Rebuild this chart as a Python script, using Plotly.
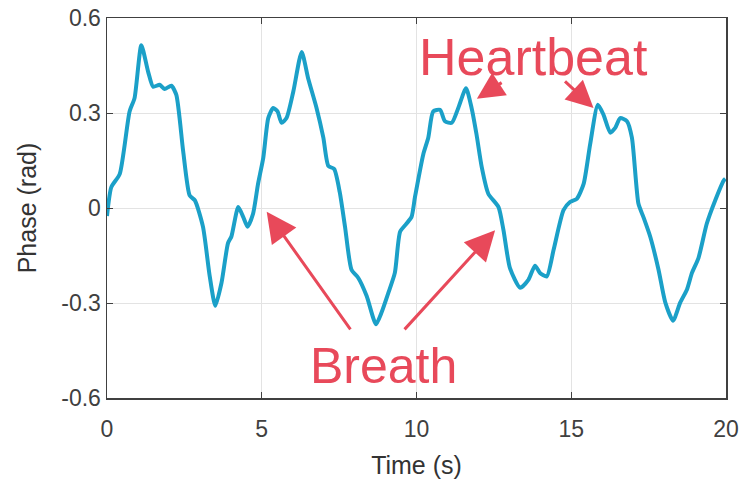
import plotly.graph_objects as go

# Data
time_s = [0.00, 0.14, 0.41, 0.73, 0.89, 1.11, 1.33, 1.49, 1.70, 1.86, 2.08, 2.24, 2.46, 2.67, 2.84,
          3.10, 3.32, 3.50, 3.70, 3.91, 4.02, 4.24, 4.40, 4.54, 4.72, 4.88, 5.05, 5.21, 5.37, 5.51,
          5.64, 5.80, 6.02, 6.29, 6.50, 6.77, 6.99, 7.15, 7.34, 7.52, 7.69, 7.90, 8.12, 8.39, 8.69,
          8.87, 9.09, 9.30, 9.47, 9.68, 9.84, 9.95, 10.22, 10.38, 10.54, 10.76, 10.92, 11.14, 11.35,
          11.60, 11.78, 11.94, 12.11, 12.32, 12.65, 12.81, 13.02, 13.35, 13.62, 13.83, 13.99, 14.21,
          14.43, 14.75, 14.96, 15.18, 15.40, 15.61, 15.86, 16.04, 16.26, 16.42, 16.58, 16.80, 16.96,
          17.17, 17.33, 17.55, 17.82, 18.04, 18.29, 18.52, 18.74, 18.90, 19.11, 19.38, 19.65, 19.92,
          19.98]
phase_rad = [-0.025, 0.066, 0.107, 0.305, 0.347, 0.514, 0.430, 0.383, 0.389, 0.376, 0.386, 0.357,
             0.180, 0.040, 0.024, -0.059, -0.216, -0.309, -0.236, -0.111, -0.090, 0.003, -0.028,
             -0.059, -0.018, 0.076, 0.159, 0.284, 0.316, 0.305, 0.269, 0.284, 0.368, 0.493, 0.409,
             0.316, 0.222, 0.133, 0.123, 0.050, -0.059, -0.195, -0.221, -0.278, -0.367, -0.330,
             -0.268, -0.205, -0.075, -0.049, -0.028, 0.034, 0.170, 0.222, 0.305, 0.310, 0.274,
             0.269, 0.316, 0.378, 0.316, 0.232, 0.128, 0.045, 0.003, -0.070, -0.190, -0.252,
             -0.226, -0.182, -0.205, -0.216, -0.132, -0.007, 0.019, 0.029, 0.076, 0.201, 0.326,
             0.295, 0.238, 0.253, 0.284, 0.274, 0.222, 0.014, -0.028, -0.090, -0.195, -0.299,
             -0.356, -0.299, -0.257, -0.205, -0.158, -0.049, 0.024, 0.086, 0.092]

x_ticks = [0, 5, 10, 15, 20]
y_ticks = [-0.6, -0.3, 0, 0.3, 0.6]
y_tick_text = ["-0.6", "-0.3", "0", "0.3", "0.6"]

RED = "#E8495A"
LINE = "#1BA0C8"
AX = "#404040"
FONT = "Liberation Sans, Arial, sans-serif"

fig = go.Figure()
fig.add_trace(go.Scatter(x=time_s, y=phase_rad, mode="lines",
                         line=dict(color=LINE, width=4, shape="spline", smoothing=0.6),
                         showlegend=False, hoverinfo="skip", cliponaxis=True))

axis_common = dict(showline=True, linecolor=AX, linewidth=1.5, mirror="ticks",
                   ticks="inside", ticklen=6, tickcolor=AX, tickwidth=1,
                   showgrid=True, gridcolor="#E3E3E3", gridwidth=1, zeroline=False,
                   automargin=False, ticklabeloverflow="allow",
                   tickfont=dict(family=FONT, size=23, color="#404040"))

fig.update_xaxes(range=[0, 20], tickvals=x_ticks, ticklabelstandoff=10,
                 title=dict(text="Time (s)", font=dict(family=FONT, size=25, color="#333333"),
                            standoff=17),
                 **axis_common)
fig.update_yaxes(range=[-0.6, 0.6], tickvals=y_ticks, ticktext=y_tick_text, ticklabelstandoff=0,
                 title=dict(text="Phase (rad)", font=dict(family=FONT, size=25, color="#333333"),
                            standoff=17),
                 **axis_common)

# Text labels
fig.add_annotation(x=13.77, y=0.477, xref="x", yref="y", text="Heartbeat", showarrow=False,
                   font=dict(family=FONT, size=52, color=RED))
fig.add_annotation(x=8.92, y=-0.50, xref="x", yref="y", text="Breath", showarrow=False,
                   font=dict(family=FONT, size=50, color=RED))

# Arrows: (head_x, head_y, tail_x, tail_y, size)
arrows = [
    (11.95, 0.345, 12.80, 0.399, 1.8),
    (15.72, 0.316, 14.75, 0.404, 1.8),
    (5.16, -0.012, 7.90, -0.388, 2.0),
    (12.54, -0.070, 9.57, -0.388, 2.0),
]
for hx, hy, tx, ty, sz in arrows:
    fig.add_annotation(x=hx, y=hy, ax=tx, ay=ty, xref="x", yref="y", axref="x", ayref="y",
                       text="", showarrow=True, arrowhead=2, arrowsize=sz, arrowwidth=3,
                       arrowcolor=RED, standoff=0)

fig.update_layout(width=741, height=479, autosize=False,
                  margin=dict(l=107, r=15, t=18, b=81),
                  paper_bgcolor="white", plot_bgcolor="white",
                  font=dict(family=FONT), hovermode=False)

# Remove the page's default body margin so the figure fills the window exactly
fig.write_html("out.html",
               config={"displayModeBar": False, "staticPlot": True},
               post_script="document.body.style.margin='0';"
                           "document.body.style.overflow='hidden';"
                           "document.documentElement.style.overflow='hidden';")
